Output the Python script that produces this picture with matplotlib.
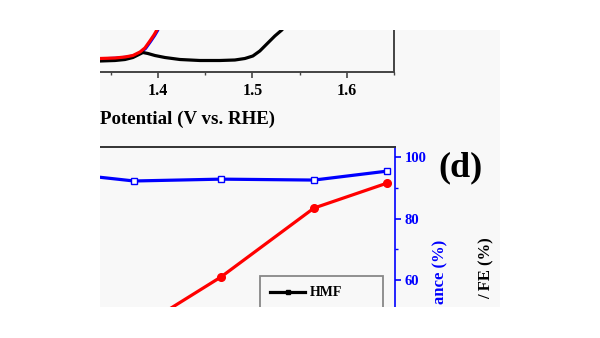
import matplotlib
matplotlib.use("Agg")
import matplotlib.pyplot as plt
from matplotlib.patches import Rectangle
from matplotlib.ticker import MultipleLocator

plt.rcParams['font.family'] = ['Liberation Serif', 'DejaVu Serif']
plt.rcParams['font.weight'] = 'bold'

# ---- top panel (LSV curves) ----
pot_black = [1.30, 1.3386, 1.3545, 1.3651, 1.3735, 1.3788, 1.3841, 1.3894, 1.3968, 1.4074,
             1.4233, 1.4444, 1.4656, 1.4815, 1.4921, 1.5005, 1.5079, 1.5153, 1.5238,
             1.5312, 1.5397, 1.55]
cur_black = [5.3, 5.5, 5.75, 6.25, 7.25, 8.5, 9.75, 9.25, 8.25, 7.25,
             6.25, 5.75, 5.75, 6.0, 6.75, 8.0, 10.5, 14.0, 18.0,
             21.0, 26.0, 33.0]
pot_red = [1.30, 1.3386, 1.3545, 1.3651, 1.3735, 1.3810, 1.3862, 1.3915, 1.3958, 1.3989,
           1.4021, 1.406]
cur_red = [6.5, 6.75, 7.0, 7.5, 8.25, 10.0, 12.0, 15.5, 18.5, 21.0, 25.0, 32.0]
pot_blue = [1.30, 1.3394, 1.3553, 1.3659, 1.3743, 1.3818, 1.3870, 1.3923, 1.3966, 1.3997,
            1.4029, 1.4068]
cur_blue = [6.4, 6.6, 6.9, 7.4, 8.1, 9.8, 11.8, 15.3, 18.3, 20.8, 24.8, 31.8]
top_xticks = [1.4, 1.5, 1.6]
top_xlabel = "Potential (V vs. RHE)"

# ---- bottom panel ----
x_pts = [0.6, 1.78, 3.52, 5.38, 6.84]
carbon_balance = [94.3, 92.2, 92.8, 92.5, 95.4]
fdca = [22.0, 43.4, 61.0, 83.4, 91.5]
right_yticks = [60, 80, 100]
legend_labels = ["HMF", "FDCA"]

W, H = 600, 338
fig = plt.figure(figsize=(6.0, 3.38), dpi=100)
fig.patch.set_facecolor('white')

def px_rect(l, t, r, b):
    return [l / W, 1 - b / H, (r - l) / W, (b - t) / H]

def fx(x):
    return x / W

def fy(y):
    return 1 - y / H

# background of the visible figure region
fig.patches.append(Rectangle((fx(100), fy(307)), fx(500) - fx(100), fy(30) - fy(307),
                             transform=fig.transFigure, facecolor='#f8f8f8',
                             edgecolor='none', zorder=-10))

tick_font = dict(family=['Liberation Serif'], weight='bold')

# ---------- top axes ----------
ax1 = fig.add_axes(px_rect(63.5, -20, 394, 72))
ax1.set_facecolor('none')
ax1.plot(pot_blue, cur_blue, color='#0000ff', lw=2.2, solid_capstyle='round',
         solid_joinstyle='round')
ax1.plot(pot_black, cur_black, color='black', lw=2.3, solid_capstyle='round',
         solid_joinstyle='round')
ax1.plot(pot_red, cur_red, color='#ff0000', lw=2.3, solid_capstyle='round',
         solid_joinstyle='round')
ax1.set_xlim(1.30, 1.65)
ax1.set_ylim(0, 46)
ax1.set_xticks(top_xticks)
ax1.set_xticklabels([f"{t:.1f}" for t in top_xticks], fontsize=11.5, **tick_font)
ax1.xaxis.set_minor_locator(MultipleLocator(0.05))
ax1.tick_params(axis='x', which='major', direction='out', length=4, width=1.2,
                color='#444444', pad=4)
ax1.tick_params(axis='x', which='minor', direction='out', length=2.5, width=1.0,
                color='#444444')
ax1.tick_params(axis='y', left=False, labelleft=False)
for s in ['bottom', 'right', 'left', 'top']:
    ax1.spines[s].set_color('#444444')
    ax1.spines[s].set_linewidth(1.4)

# ---------- bottom axes ----------
ax2 = fig.add_axes(px_rect(45, 147, 395, 360))
ax2.set_facecolor('none')
ax2.plot(x_pts, carbon_balance, color='#0000ff', lw=2.3, marker='s', ms=4.5,
         mfc='white', mec='#0000ff', mew=1.0)
ax2.plot(x_pts, fdca, color='#ff0000', lw=2.3, marker='o', ms=5.5,
         mfc='#ff0000', mec='#ff0000')
ax2.set_xlim(0, 7)
ax2.set_ylim(34, 103.25)
ax2.set_xticks([])
ax2.yaxis.tick_right()
ax2.set_yticks(right_yticks)
ax2.set_yticklabels([str(t) for t in right_yticks], fontsize=10.5, color='#0000ff', **tick_font)
ax2.yaxis.set_minor_locator(MultipleLocator(10))
ax2.tick_params(axis='y', which='major', direction='out', length=4, width=1.2,
                color='#0000ff', pad=3)
ax2.tick_params(axis='y', which='minor', direction='out', length=2.5, width=1.0,
                color='#0000ff')
ax2.spines['top'].set_color('#333333')
ax2.spines['top'].set_linewidth(1.4)
ax2.spines['right'].set_color('#0000ff')
ax2.spines['right'].set_linewidth(1.2)
ax2.spines['left'].set_visible(False)
ax2.spines['bottom'].set_visible(False)

# legend
h_hmf, = ax2.plot([], [], color='black', lw=2.3, marker='s', ms=3.5)
h_fdca, = ax2.plot([], [], color='#ff0000', lw=2.3, marker='o', ms=4.5)
leg = ax2.legend([h_hmf, h_fdca], legend_labels,
                 loc='upper left', bbox_to_anchor=(fx(260), fy(276) - 0.5, fx(383) - fx(260), 0.5),
                 bbox_transform=fig.transFigure, mode='expand', borderaxespad=0,
                 fancybox=False, framealpha=1, edgecolor='#888888', facecolor='#f8f8f8',
                 handlelength=2.5, handletextpad=0.35, borderpad=0.75, labelspacing=0.6,
                 prop=dict(family='Liberation Serif', weight='bold', size=10))
leg.get_frame().set_linewidth(1.3)

# ---------- masks (the reference is a cropped figure) ----------
for (l, t, r, b) in [(0, 0, 100, H), (500, 0, W, H), (0, 0, W, 30), (0, 307, W, H)]:
    fig.patches.append(Rectangle((fx(l), fy(b)), fx(r) - fx(l), fy(t) - fy(b),
                                 transform=fig.transFigure, facecolor='white',
                                 edgecolor='none', zorder=10))

# ---------- texts ----------
fig.text(fx(100), fy(119), top_xlabel, ha='left', va='center', fontsize=13.6,
         fontweight='bold', family='Liberation Serif', zorder=11)
fig.text(fx(461), fy(168), "(d)", ha='center', va='center', fontsize=26,
         fontweight='bold', family='Liberation Serif', zorder=11)
fig.text(fx(440), fy(240), "ance (%)", ha='center', va='top', rotation=90, fontsize=12,
         fontweight='bold', family='Liberation Serif', color='#0000ff', zorder=11)
fig.text(fx(487), fy(237), "/ FE (%)", ha='center', va='top', rotation=90, fontsize=12,
         fontweight='bold', family='Liberation Serif', color='black', zorder=11)

fig.savefig("out.png", dpi=100, facecolor='white')
